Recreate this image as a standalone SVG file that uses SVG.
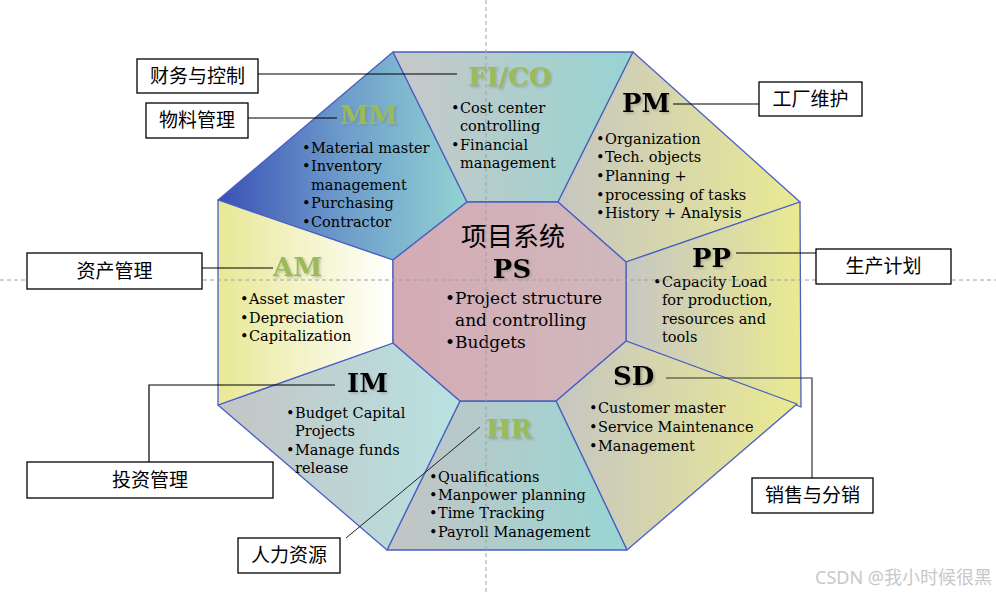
<svg xmlns="http://www.w3.org/2000/svg" width="996" height="595" viewBox="0 0 996 595">
<style>
.seg{stroke:#4a5fc4;stroke-width:1.3;stroke-linejoin:round}
.t{font-family:"DejaVu Serif","Liberation Serif",serif;font-weight:bold;font-size:26px;filter:url(#sh)}
.tg{fill:#9bbb59}
.tk{fill:#000}
.b{font-family:"DejaVu Serif","Liberation Serif",serif;font-size:14.5px;fill:#000}
.ps{font-family:"DejaVu Serif","Liberation Serif",serif;font-size:17px;fill:#000}
.cn{font-family:"Noto Sans CJK SC",sans-serif;font-size:19px;fill:#000;text-anchor:middle}
.box{fill:#fff;stroke:#000;stroke-width:1.3}
.ln{fill:none;stroke:#000;stroke-width:1.2}
.dash{stroke:#a0a0a0;stroke-width:1;stroke-dasharray:4 3}
</style>
<defs>
<filter id="sh" x="-20%" y="-20%" width="140%" height="140%"><feDropShadow dx="1.5" dy="1.5" stdDeviation="1" flood-color="#777" flood-opacity="0.45"/></filter>
<linearGradient id="gmm" x1="0" x2="1"><stop offset="0" stop-color="#3a50b6"/><stop offset="0.5" stop-color="#6d9ccb"/><stop offset="1" stop-color="#92d3d2"/></linearGradient>
<linearGradient id="gfico" x1="0" x2="1"><stop offset="0" stop-color="#c8c8c8"/><stop offset="1" stop-color="#96d4d2"/></linearGradient>
<linearGradient id="gy" x1="0" x2="1"><stop offset="0" stop-color="#c6c6c2"/><stop offset="1" stop-color="#eaea92"/></linearGradient>
<linearGradient id="ghr" x1="0" x2="1"><stop offset="0" stop-color="#c4c4c4"/><stop offset="1" stop-color="#98d6d4"/></linearGradient>
<linearGradient id="gim" x1="0" x2="1"><stop offset="0" stop-color="#c4c4c4"/><stop offset="1" stop-color="#b8e2e2"/></linearGradient>
<linearGradient id="gam" x1="0" x2="1"><stop offset="0" stop-color="#e8e896"/><stop offset="1" stop-color="#ffffff"/></linearGradient>
<linearGradient id="gps" x1="0" x2="1"><stop offset="0" stop-color="#d4abb4"/><stop offset="1" stop-color="#d0b8bc"/></linearGradient>
</defs>
<rect width="996" height="595" fill="#fff"/>

<g id="MM">
<polygon class="seg" fill="url(#gmm)" points="218,200 393,52 467,202 393,260"/>
<text class="t tg" x="340" y="124">MM</text>
<text class="b"><tspan x="302" y="153">•</tspan><tspan x="311">Material master</tspan><tspan x="302" y="171">•</tspan><tspan x="311">Inventory</tspan><tspan x="311" y="189.5">management</tspan><tspan x="302" y="208">•</tspan><tspan x="311">Purchasing</tspan><tspan x="302" y="227">•</tspan><tspan x="311">Contractor</tspan></text>
</g>
<g id="FICO">
<polygon class="seg" fill="url(#gfico)" points="393,52 633,52 558,202 467,202"/>
<text class="t tg" x="468" y="86">FI/CO</text>
<text class="b"><tspan x="451" y="113">•</tspan><tspan x="460">Cost center</tspan><tspan x="460" y="131">controlling</tspan><tspan x="451" y="150">•</tspan><tspan x="460">Financial</tspan><tspan x="460" y="168">management</tspan></text>
</g>
<g id="PM">
<polygon class="seg" fill="url(#gy)" points="633,52 800,202 626,262 558,202"/>
<text class="t tk" x="622" y="112">PM</text>
<text class="b"><tspan x="596" y="144">•</tspan><tspan x="605">Organization</tspan><tspan x="596" y="162">•</tspan><tspan x="605">Tech. objects</tspan><tspan x="596" y="181">•</tspan><tspan x="605">Planning +</tspan><tspan x="596" y="200">•</tspan><tspan x="605">processing  of tasks</tspan><tspan x="596" y="218">•</tspan><tspan x="605">History + Analysis</tspan></text>
</g>
<g id="PP">
<polygon class="seg" fill="url(#gy)" points="800,202 801,407 626,341 626,262"/>
<text class="t tk" x="692" y="267">PP</text>
<text class="b"><tspan x="653" y="287">•</tspan><tspan x="662">Capacity Load</tspan><tspan x="662" y="305">for production,</tspan><tspan x="662" y="324">resources and</tspan><tspan x="662" y="342">tools</tspan></text>
</g>
<g id="SD">
<polygon class="seg" fill="url(#gy)" points="626,341 797,404 627,550 556,401"/>
<text class="t tk" x="613" y="385">SD</text>
<text class="b"><tspan x="589" y="413">•</tspan><tspan x="598">Customer master</tspan><tspan x="589" y="432">•</tspan><tspan x="598">Service Maintenance</tspan><tspan x="589" y="451">•</tspan><tspan x="598">Management</tspan></text>
</g>
<g id="HR">
<polygon class="seg" fill="url(#ghr)" points="556,401 627,550 387,550 460,401"/>
<text class="t tg" x="486" y="438">HR</text>
<text class="b"><tspan x="429" y="482">•</tspan><tspan x="438">Qualifications</tspan><tspan x="429" y="500">•</tspan><tspan x="438">Manpower planning</tspan><tspan x="429" y="518">•</tspan><tspan x="438">Time Tracking</tspan><tspan x="429" y="537">•</tspan><tspan x="438">Payroll Management</tspan></text>
</g>
<g id="IM">
<polygon class="seg" fill="url(#gim)" points="460,401 387,550 218,405 393,343"/>
<text class="t tk" x="347" y="392">IM</text>
<text class="b"><tspan x="286" y="418">•</tspan><tspan x="295">Budget Capital</tspan><tspan x="295" y="436">Projects</tspan><tspan x="286" y="455">•</tspan><tspan x="295">Manage funds</tspan><tspan x="295" y="473">release</tspan></text>
</g>
<g id="AM">
<polygon class="seg" fill="url(#gam)" points="393,343 218,405 218,200 393,260"/>
<text class="t tg" x="273" y="276">AM</text>
<text class="b"><tspan x="240" y="304">•</tspan><tspan x="249">Asset master</tspan><tspan x="240" y="323">•</tspan><tspan x="249">Depreciation</tspan><tspan x="240" y="341">•</tspan><tspan x="249">Capitalization</tspan></text>
</g>
<g id="PS">
<polygon class="seg" fill="url(#gps)" points="467,202 558,202 626,262 626,341 556,401 460,401 393,343 393,260"/>
<text x="513" y="246" text-anchor="middle" style="font-family:'Noto Sans CJK SC',sans-serif;font-size:26px;fill:#000">项目系统</text>
<text class="t tk" x="512" y="278" text-anchor="middle">PS</text>
<text class="ps"><tspan x="445" y="304">•</tspan><tspan x="455">Project structure</tspan><tspan x="455" y="326">and controlling</tspan><tspan x="445" y="348">•</tspan><tspan x="455">Budgets</tspan></text>
</g>

<g id="crosshair">
<line class="dash" x1="486" y1="0" x2="486" y2="595"/>
<line class="dash" x1="0" y1="280" x2="996" y2="280"/>
</g>

<g id="connectors">
<line class="ln" x1="258" y1="74" x2="457" y2="74"/>
<line class="ln" x1="248" y1="118" x2="337" y2="118"/>
<line class="ln" x1="673" y1="104" x2="759" y2="104"/>
<line class="ln" x1="202" y1="268" x2="273" y2="268"/>
<line class="ln" x1="736" y1="253" x2="816" y2="253"/>
<polyline class="ln" points="666,378 812,378 812,478" style="stroke:#333"/>
<polyline class="ln" points="335,385 149,385 149,462"/>
<line class="ln" x1="346" y1="538" x2="480" y2="427" style="stroke:#222;stroke-width:1"/>
</g>

<g id="L-fico"><rect class="box" x="137" y="59" width="121" height="34"/><text class="cn" x="197.5" y="83">财务与控制</text></g>
<g id="L-mm"><rect class="box" x="146" y="103" width="102" height="35"/><text class="cn" x="197" y="127">物料管理</text></g>
<g id="L-pm"><rect class="box" x="759" y="82" width="103" height="34"/><text class="cn" x="810.5" y="106">工厂维护</text></g>
<g id="L-am"><rect class="box" x="27" y="253" width="175" height="36"/><text class="cn" x="114.5" y="278">资产管理</text></g>
<g id="L-pp"><rect class="box" x="816" y="249" width="135" height="35"/><text class="cn" x="883.5" y="273">生产计划</text></g>
<g id="L-sd"><rect class="box" x="752" y="478" width="121" height="35"/><text class="cn" x="812.5" y="502">销售与分销</text></g>
<g id="L-im"><rect class="box" x="27" y="462" width="246" height="36"/><text class="cn" x="150" y="487">投资管理</text></g>
<g id="L-hr"><rect class="box" x="238" y="538" width="102" height="35"/><text class="cn" x="289" y="562">人力资源</text></g>

<text x="992" y="584" text-anchor="end" style="font-family:'Noto Sans','Noto Sans CJK SC',sans-serif;font-size:18px;fill:#c8c8c8">CSDN @我小时候很黑</text>
</svg>
